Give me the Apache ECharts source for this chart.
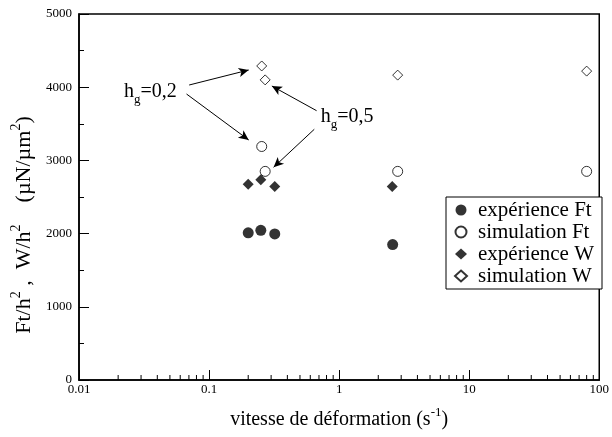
<!DOCTYPE html>
<html><head><meta charset="utf-8">
<script src="https://cdn.jsdelivr.net/npm/echarts@6/dist/echarts.min.js"></script>
<style>html,body{margin:0;padding:0;background:#fff}#c{width:612px;height:437px}</style>
</head><body><div id="c"></div>
<script>
// ---- data ----
const expFtX = [0.2, 0.25, 0.32, 2.58];
const expFtY = [2010, 2045, 1995, 1850];
const simFtX = [0.254, 0.27, 2.82, 80];
const simFtY = [3190, 2850, 2850, 2850];
const expWX = [0.2, 0.25, 0.32, 2.56];
const expWY = [2675, 2735, 2645, 2645];
const simWX = [0.254, 0.27, 2.82, 80];
const simWY = [4290, 4100, 4165, 4220];
const xTickValues = [0.01, 0.1, 1, 10, 100];
const yTickValues = [0, 1000, 2000, 3000, 4000, 5000];
// annotation arrows: [fromX, fromY, toX, toY] in data units
const arrowsHg02 = [[0.0703, 4030, 0.2017, 4235], [0.0671, 3907, 0.2017, 3279]];
const arrowsHg05 = [[0.671, 3679, 0.304, 4016], [0.644, 3425, 0.3135, 2906]];
const labelHg02 = [0.0354, 3934];
const labelHg05 = [1.151, 3593];

const minorX = [];
for (let d = 0.01; d < 100; d *= 10) for (let k = 2; k <= 9; k++) minorX.push(+(d * k).toPrecision(3));

const zip = (a, b) => a.map((v, i) => [v, b[i]]);
const FONT = 'Liberation Serif';
const blk = '#000';

const chart = echarts.init(document.getElementById('c'), null, {renderer: 'canvas'});
const arrowData = arrowsHg02.concat(arrowsHg05).map(a => [{coord: [a[0], a[1]]}, {coord: [a[2], a[3]]}]);
const rich = {
  n: {fontFamily: FONT, fontSize: 20, color: blk, lineHeight: 28, verticalAlign: 'middle'},
  sub: {fontFamily: FONT, fontSize: 13, color: blk, verticalAlign: 'bottom', lineHeight: 28},
  sup: {fontFamily: FONT, fontSize: 13, color: blk, verticalAlign: 'top', lineHeight: 28}
};
const richY = {
  n: {fontFamily: FONT, fontSize: 22, color: blk, lineHeight: 30, verticalAlign: 'middle'},
  sup: {fontFamily: FONT, fontSize: 14, color: blk, verticalAlign: 'top', lineHeight: 30}
};

chart.setOption({
  animation: false,
  backgroundColor: '#fff',
  grid: {left: 79, right: 9, top: 14, bottom: 57, show: true, borderColor: blk, borderWidth: 1.5},
  legend: {
    data: ['expérience Ft', 'simulation Ft', 'expérience W', 'simulation W'],
    orient: 'vertical', left: 446, top: 197,
    padding: [2, 8, 2, 8], itemGap: 0, itemWidth: 12, itemHeight: 11,
    backgroundColor: '#fff', borderColor: blk, borderWidth: 1, borderRadius: 0,
    textStyle: {fontFamily: FONT, fontSize: 21, color: blk, lineHeight: 22, padding: [0, 0, 0, 6]}
  },
  xAxis: {
    type: 'log', logBase: 10, min: 0.01, max: 100,
    name: '{n|vitesse de déformation (s}{sup|-1}{n|)}',
    nameLocation: 'middle', nameGap: 26,
    nameTextStyle: {rich: rich},
    axisLine: {lineStyle: {color: blk, width: 1.5}},
    axisTick: {inside: true, length: 10, lineStyle: {color: blk, width: 1}},
    axisLabel: {fontFamily: FONT, fontSize: 13, color: blk, margin: 3,
      formatter: v => { const t = xTickValues.find(x => Math.abs(x - v) / x < 1e-6); return t === undefined ? '' : String(t); }},
    splitLine: {show: false}
  },
  yAxis: {
    type: 'value', min: 0, max: 5000, interval: 1000,
    name: '{n|Ft/h}{sup|2}{n| ,  W/h}{sup|2}{n|    (µN/µm}{sup|2}{n|)}',
    nameLocation: 'middle', nameRotate: 90, nameGap: 32,
    nameTextStyle: {rich: richY, padding: [0, 56, 0, 0]},
    axisLine: {lineStyle: {color: blk, width: 1.5}},
    axisTick: {inside: true, length: 10, lineStyle: {color: blk, width: 1}},
    minorTick: {show: true, splitNumber: 2, length: 5, lineStyle: {color: blk, width: 1}},
    axisLabel: {fontFamily: FONT, fontSize: 13, color: blk, margin: 7,
      formatter: v => yTickValues.includes(v) ? String(v) : ''},
    splitLine: {show: false}
  },
  series: [
    {name: 'expérience Ft', type: 'scatter', data: zip(expFtX, expFtY), symbol: 'circle', symbolSize: 11,
      itemStyle: {color: blk}},
    {name: 'simulation Ft', type: 'scatter', data: zip(simFtX, simFtY), symbol: 'circle', symbolSize: 10,
      itemStyle: {color: '#fff', borderColor: blk, borderWidth: 1}},
    {name: 'expérience W', type: 'scatter', data: zip(expWX, expWY), symbol: 'diamond', symbolSize: 11,
      itemStyle: {color: blk}},
    {name: 'simulation W', type: 'scatter', data: zip(simWX, simWY), symbol: 'diamond', symbolSize: 10,
      itemStyle: {color: '#fff', borderColor: blk, borderWidth: 1},
      markLine: {silent: true, symbol: ['none', 'arrow'], symbolSize: [7, 10], label: {show: false},
        lineStyle: {color: blk, width: 1, type: 'solid'}, emphasis: {disabled: true}, data: arrowData},
      markPoint: {silent: true, symbol: 'circle', symbolSize: 1, itemStyle: {color: 'rgba(0,0,0,0)'},
        label: {show: true, position: 'inside', rich: rich, formatter: p => p.name},
        data: [
          {name: '{n|h}{sub|g}{n|=0,2}', coord: labelHg02},
          {name: '{n|h}{sub|g}{n|=0,5}', coord: labelHg05}
        ]}
    },
    {name: 'minorTicks', type: 'custom', silent: true, z: 5,
      data: minorX.map(v => [v, 0]),
      renderItem: (params, api) => {
        const p = api.coord([api.value(0), 0]);
        return {type: 'line', shape: {x1: p[0], y1: p[1], x2: p[0], y2: p[1] - 5},
          style: {stroke: blk, lineWidth: 1}};
      }}
  ]
});
</script></body></html>
